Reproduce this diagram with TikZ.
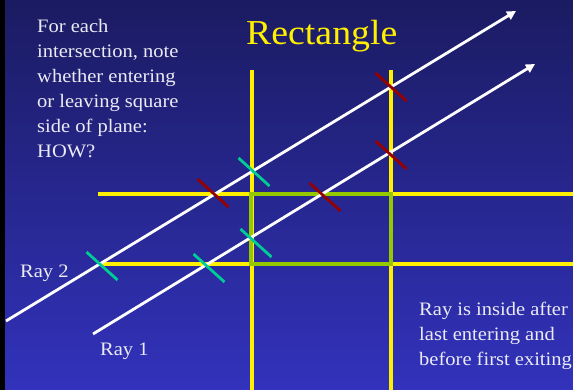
\documentclass[tikz,border=0pt]{standalone}
\usepackage{fontspec}
\setmainfont[FakeStretch=1.08]{Liberation Serif}
\usetikzlibrary{arrows.meta,calc}
\definecolor{bgtop}{RGB}{27,27,98}
\definecolor{bgbot}{RGB}{50,50,188}
\definecolor{ylw}{RGB}{255,240,0}
\definecolor{entc}{RGB}{0,204,150}
\definecolor{exitc}{RGB}{150,0,0}
\definecolor{boxc}{RGB}{150,200,0}
\definecolor{txt}{RGB}{235,235,245}
\begin{document}
\begin{tikzpicture}[x=1pt,y=-1pt,
  ray/.style={draw=white,line width=2.8pt,-{Triangle[length=9pt,width=9pt]}},
  plane/.style={draw=ylw,line width=3.2pt},
  boxline/.style={draw=boxc,line width=4.6pt},
  enttick/.style={draw=entc,line width=2.8pt},
  exittick/.style={draw=exitc,line width=2.8pt},
  lbl/.style={text=txt,font=\fontsize{19}{25}\selectfont,inner sep=0pt,anchor=base west,align=left},
  ttl/.style={text=ylw,font=\fontsize{35}{40}\selectfont,inner sep=0pt,anchor=base west}]
\useasboundingbox (0,0) rectangle (573,390);
\fill[black] (0,0) rectangle (5,390);
\shade[top color=bgtop,bottom color=bgbot] (5,0) rectangle (573,390);
% planes
\coordinate (v1t) at (252,70); \coordinate (v1b) at (252,390);
\coordinate (v2t) at (391,70); \coordinate (v2b) at (391,390);
\coordinate (h1l) at (98,194); \coordinate (h1r) at (573,194);
\coordinate (h2l) at (98,264); \coordinate (h2r) at (573,264);
\draw[plane] (v1t) -- (v1b);
\draw[plane] (v2t) -- (v2b);
\draw[plane] (h1l) -- (h1r);
\draw[plane] (h2l) -- (h2r);
\draw[boxline] (251,194) rectangle (391,264);
% rays
\coordinate (r2s) at (6,321); \coordinate (r2e) at (516,11);
\coordinate (r1s) at (93,334); \coordinate (r1e) at (535,64);
\draw[ray] (r2s) -- (r2e);
\draw[ray] (r1s) -- (r1e);
% intersections
\coordinate (e1) at (102,266);
\coordinate (e2) at (254,172);
\coordinate (e3) at (209,268);
\coordinate (e4) at (256,243);
\coordinate (x1) at (213,193);
\coordinate (x2) at (391,87);
\coordinate (x3) at (325,197);
\coordinate (x4) at (391,155);
\foreach \p in {e1,e2,e3,e4}
  \draw[enttick] ($(\p)+(-15.5,-14)$) -- ($(\p)+(15.5,14)$);
\foreach \p in {x1,x2,x3,x4}
  \draw[exittick] ($(\p)+(-15.5,-14)$) -- ($(\p)+(15.5,14)$);
% texts
\node[ttl] (title) at (246,45) {Rectangle};
\node[lbl] (note) at (37,158) {For each\\intersection, note\\whether entering\\or leaving square\\side of plane:\\HOW?};
\node[lbl] (ray2) at (20,277) {Ray 2};
\node[lbl] (ray1) at (100,355) {Ray 1};
\node[lbl] (inside) at (419,365) {Ray is inside after\\last entering and\\before first exiting};
\end{tikzpicture}
\end{document}
